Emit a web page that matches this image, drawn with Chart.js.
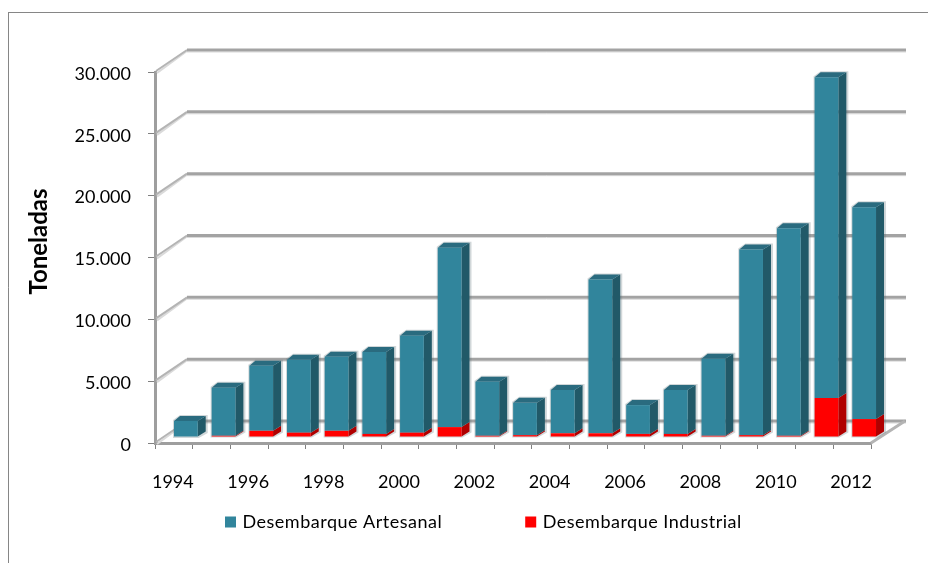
<!DOCTYPE html>
<html>
<head>
<meta charset="utf-8">
<style>html,body{margin:0;padding:0;background:#fff}#w{width:928px;height:563px;position:relative}</style>
<script src="https://cdn.jsdelivr.net/npm/chart.js@4/dist/chart.umd.min.js"></script>
</head>
<body>
<div id="w"><canvas id="c" width="928" height="563"></canvas></div>
<script>
const categories = ['1994','1995','1996','1997','1998','1999','2000','2001','2002','2003','2004','2005','2006','2007','2008','2009','2010','2011','2012'];
const desembarqueArtesanal = [1300,3880,5260,5890,5980,6630,7830,14510,4360,2610,3510,12430,2330,3560,6220,15010,16780,25950,17130];
const desembarqueIndustrial = [0,100,500,350,500,250,350,800,100,150,300,300,250,250,100,150,100,3150,1450];
const yTicks = [0,5000,10000,15000,20000,25000,30000];
const serieNames = ['Desembarque Artesanal','Desembarque Industrial'];
const axisTitle = 'Toneladas';

const FONT = 'Lato';
const WALL = {dx:32, dy:-22, right:906};
const BAR = {dx:12, dy:-6, ddx:8, ddy:-5, tl:6};
const LEG = {x:227.5, y:513, pad:85.5};
const C = {art:'#31859C', artSide:'#215968', artTop:'#2A6B7F', ind:'#FF0000', indSide:'#B00000', grid:'#A3A3A3', gridSoft:'#DADADA', frame:'#868686'};

function line(ctx,x1,y1,x2,y2,c,w){ctx.strokeStyle=c;ctx.lineWidth=w;ctx.beginPath();ctx.moveTo(x1,y1);ctx.lineTo(x2,y2);ctx.stroke();}
function poly(ctx,pts,c){ctx.fillStyle=c;ctx.beginPath();pts.forEach((p,i)=>i?ctx.lineTo(p[0],p[1]):ctx.moveTo(p[0],p[1]));ctx.closePath();ctx.fill();}

const threeD = {
  id:'threeD',
  beforeLayout(chart){
    const lg=chart.legend;
    if(lg && !lg._wrapped){
      const f=lg.fit, d=lg.draw;
      lg.fit=function(){f.call(this);this.height=0;};
      lg.draw=function(){const c=this.ctx;c.letterSpacing='0.5px';d.call(this);c.letterSpacing='0px';};
      lg._wrapped=true;
    }
  },
  afterLayout(chart){
    const lg=chart.legend, lw=lg.lineWidths[0];
    lg.left=0; lg.right=2*LEG.x+lw-LEG.pad; lg.top=LEG.y-LEG.pad;
  },
  beforeDraw(chart){
    const ctx=chart.ctx;
    ctx.save();
    line(ctx,8.5,563,8.5,12.5,C.frame,1);
    line(ctx,8,12.5,928,12.5,C.frame,1);
    ctx.restore();
  },
  beforeDatasetsDraw(chart){
    const ctx=chart.ctx, y=chart.scales.y, a=chart.chartArea;
    ctx.save();
    yTicks.forEach(v=>{
      const p=y.getPixelForValue(v);
      line(ctx,a.left+2,p+1,a.left+WALL.dx,p+WALL.dy+1,C.gridSoft,2);
      line(ctx,a.left+1,p-1,a.left+WALL.dx,p+WALL.dy,'#B4B4B4',2);
      line(ctx,a.left+WALL.dx,p+WALL.dy+2,WALL.right,p+WALL.dy+2,C.gridSoft,1);
      line(ctx,a.left+WALL.dx,p+WALL.dy,WALL.right,p+WALL.dy,C.grid,3);
    });
    const p0=y.getPixelForValue(0);
    line(ctx,a.right,p0,a.right+WALL.dx+2,p0+WALL.dy,'#B4B4B4',3);
    ctx.restore();
    ctx.save();
    ctx.translate(BAR.dx,BAR.dy);
    const top=chart.getDatasetMeta(1).data;
    const totals=chart.getDatasetMeta(0).data;
    top.forEach((el,i)=>{
      const l=el.x-el.width/2, r=el.x+el.width/2, b=totals[i].base;
      poly(ctx,[[l-1,el.y-1],[l+BAR.tl,el.y+BAR.ddy-1],[r+BAR.ddx+2,el.y+BAR.ddy-1],[r+BAR.ddx+2,b+BAR.ddy+1],[r+1,b+1],[l-1,b+1]],'rgba(90,110,120,0.28)');
    });
    [[0,C.indSide],[1,C.artSide]].forEach(([d,side])=>{
      chart.getDatasetMeta(d).data.forEach(el=>{
        if(Math.abs(el.base-el.y)<0.5) return;
        const r=el.x+el.width/2;
        poly(ctx,[[r,el.y],[r+BAR.ddx,el.y+BAR.ddy],[r+BAR.ddx,el.base+BAR.ddy],[r,el.base]],side);
      });
    });
    top.forEach(el=>{
      const l=el.x-el.width/2, r=el.x+el.width/2;
      poly(ctx,[[l,el.y],[l+BAR.tl,el.y+BAR.ddy],[r+BAR.ddx,el.y+BAR.ddy],[r,el.y]],C.artTop);
    });
  },
  afterDatasetsDraw(chart){
    chart.ctx.restore();
    const ctx=chart.ctx;
    ctx.save();
    ctx.translate(39,(187+296)/2);
    ctx.rotate(-Math.PI/2);
    ctx.fillStyle='#000';
    ctx.font='bold 24px "'+FONT+'"';
    ctx.textAlign='center';ctx.textBaseline='middle';
    ctx.fillText(axisTitle,0,0);
    ctx.restore();
  }
};

new Chart(document.getElementById('c'),{
  type:'bar',
  data:{labels:categories,datasets:[
    {label:serieNames[1],data:desembarqueIndustrial,backgroundColor:C.ind,borderWidth:0},
    {label:serieNames[0],data:desembarqueArtesanal,backgroundColor:C.art,borderWidth:0}
  ]},
  options:{
    responsive:false,animation:false,
    layout:{padding:{left:0,right:57,top:72,bottom:0}},
    datasets:{bar:{categoryPercentage:1,barPercentage:0.63,clip:false}},
    plugins:{
      legend:{display:true,position:'bottom',reverse:true,
        labels:{boxWidth:6,boxHeight:6,padding:LEG.pad,color:'#000',font:{family:FONT,size:18},
          generateLabels(chart){
            return Chart.defaults.plugins.legend.labels.generateLabels(chart).map(it=>Object.assign(it,{strokeStyle:it.fillStyle,lineWidth:5}));
          }}},
      tooltip:{enabled:false}
    },
    scales:{
      x:{stacked:true,
        afterFit(s){s.height=120;},
        grid:{drawOnChartArea:false,offset:true,tickLength:6,tickColor:'#808080',tickWidth:1},
        border:{color:'#9E9E9E',width:3},
        ticks:{autoSkip:false,maxRotation:0,padding:22,labelOffset:-1,color:'#000',font:{family:FONT,size:18},
          callback(v,i){return i%2?'':this.getLabelForValue(v);}}
      },
      y:{stacked:true,min:0,max:30000,
        afterFit(s){s.width=155;},
        afterBuildTicks(s){s.ticks=yTicks.map(v=>({value:v}));},
        grid:{drawOnChartArea:false,tickLength:7,tickColor:'#808080',tickWidth:1},
        border:{color:'#9E9E9E',width:3},
        ticks:{padding:17,labelOffset:2,color:'#000',font:{family:FONT,size:18},
          callback(v){return String(v).replace(/\B(?=(\d{3})+$)/g,'.');}}
      }
    }
  },
  plugins:[threeD]
});
</script>
</body>
</html>
